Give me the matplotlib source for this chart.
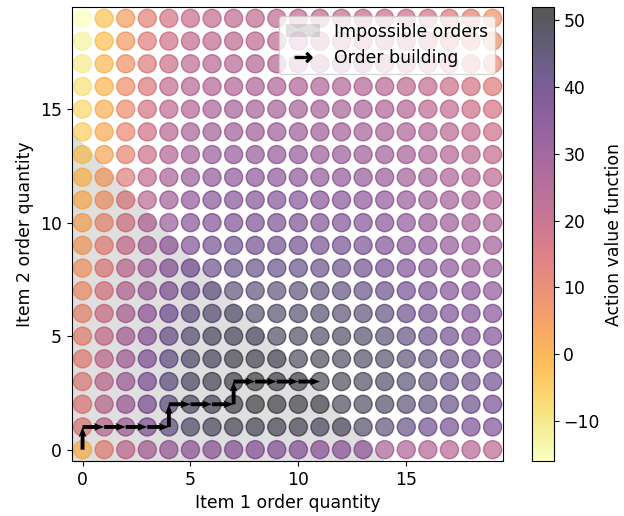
import numpy as np
import matplotlib
matplotlib.use("Agg")
import matplotlib.pyplot as plt
from matplotlib.lines import Line2D
from matplotlib.patches import Patch

plt.rcParams["font.size"] = 12.4

# ---- data -------------------------------------------------------------
item1_qty = list(range(20))
item2_qty = list(range(20))

# action value function, rows = item 2 quantity 0..19, cols = item 1 quantity 0..19
q_row_00 = [0, 12, 21, 27, 31, 33, 34, 35, 35, 35, 35, 34, 34, 33, 27, 26, 25, 24, 24, 23]
q_row_01 = [14, 22, 29, 36, 42, 46, 48, 49, 49, 49, 49, 48, 48, 47, 44, 42, 40, 39, 38, 37]
q_row_02 = [14, 22, 30, 37, 43, 47, 49, 50, 52, 51, 50, 50, 49, 48, 47, 45, 43, 42, 41, 39]
q_row_03 = [13, 22, 29, 37, 43, 47, 49, 50, 51, 51, 50, 50, 49, 48, 47, 45, 44, 42, 41, 40]
q_row_04 = [12, 21, 28, 36, 42, 46, 48, 49, 49, 49, 49, 49, 48, 47, 46, 44, 43, 41, 40, 38]
q_row_05 = [11, 20, 27, 34, 41, 45, 47, 48, 48, 48, 48, 47, 47, 46, 45, 43, 41, 40, 38, 37]
q_row_06 = [10, 18, 26, 33, 39, 43, 45, 46, 46, 46, 46, 46, 45, 44, 43, 41, 40, 38, 37, 35]
q_row_07 = [8, 16, 24, 31, 37, 41, 43, 44, 44, 44, 44, 44, 43, 42, 41, 39, 38, 36, 35, 33]
q_row_08 = [6, 14, 22, 29, 35, 39, 41, 42, 42, 42, 42, 41, 41, 40, 39, 37, 36, 34, 32, 31]
q_row_09 = [5, 12, 20, 27, 33, 37, 39, 40, 40, 40, 40, 39, 39, 38, 37, 35, 34, 32, 30, 29]
q_row_10 = [3, 10, 17, 25, 31, 35, 37, 38, 38, 38, 38, 37, 37, 36, 35, 33, 32, 30, 28, 27]
q_row_11 = [1, 7, 15, 23, 29, 33, 35, 36, 36, 36, 36, 35, 35, 34, 33, 31, 30, 28, 27, 25]
q_row_12 = [-1, 5, 13, 21, 27, 31, 33, 34, 34, 34, 34, 33, 33, 32, 31, 29, 28, 26, 25, 23]
q_row_13 = [-3, 3, 11, 19, 25, 29, 31, 32, 32, 32, 32, 31, 31, 30, 29, 28, 26, 25, 23, 21]
q_row_14 = [-5, 2, 10, 18, 24, 27, 29, 30, 30, 30, 30, 30, 29, 28, 27, 26, 25, 23, 21, 19]
q_row_15 = [-7, 1, 9, 17, 22, 25, 27, 28, 28, 28, 28, 28, 27, 27, 26, 25, 23, 21, 19, 17]
q_row_16 = [-9, 0, 8, 15, 21, 24, 25, 26, 26, 26, 26, 26, 25, 25, 24, 23, 21, 19, 17, 14]
q_row_17 = [-11, -1, 7, 14, 19, 22, 24, 24, 25, 25, 25, 24, 24, 23, 22, 21, 19, 17, 14, 11]
q_row_18 = [-13, -2, 6, 13, 18, 21, 22, 23, 23, 23, 23, 23, 22, 22, 21, 20, 18, 16, 13, 9]
q_row_19 = [-16, -3, 5, 12, 17, 20, 21, 22, 22, 22, 22, 22, 21, 21, 20, 19, 17, 15, 12, 7]

q_values = [q_row_00, q_row_01, q_row_02, q_row_03, q_row_04, q_row_05, q_row_06,
            q_row_07, q_row_08, q_row_09, q_row_10, q_row_11, q_row_12, q_row_13,
            q_row_14, q_row_15, q_row_16, q_row_17, q_row_18, q_row_19]

# minimum total order: orders with item1 + item2 below this are impossible
min_total_order = 14

# order building path
path_item1 = [0, 0, 1, 2, 3, 4, 4, 5, 6, 7, 7, 8, 9, 10, 11]
path_item2 = [0, 1, 1, 1, 1, 1, 2, 2, 2, 2, 3, 3, 3, 3, 3]

# ---- figure -----------------------------------------------------------
fig = plt.figure(figsize=(6.24, 5.16), dpi=100)
ax = fig.add_axes([0.115, 0.1066, 0.6917, 0.8798])
cax = fig.add_axes([0.8518, 0.1066, 0.0353, 0.8798])

# impossible orders region
lo, hi = -0.5, 19.5
edge = min_total_order - 0.5
bx = np.array([lo, edge - lo])
ax.fill_between(bx, lo, edge - bx, color="grey", alpha=0.25, linewidth=0, zorder=0)

X, Y = np.meshgrid(item1_qty, item2_qty)
sc = ax.scatter(X.ravel(), Y.ravel(), c=np.array(q_values, dtype=float).ravel(),
                cmap="inferno_r", alpha=0.5, s=170, zorder=1)

px = np.array(path_item1, dtype=float)
py = np.array(path_item2, dtype=float)
ax.quiver(px[:-1], py[:-1], np.diff(px), np.diff(py), angles="xy", scale_units="xy",
          scale=1, color="k", width=0.009, headwidth=2.0, headlength=2.6,
          headaxislength=2.3, zorder=3)

ax.set_xlim(lo, hi)
ax.set_ylim(lo, hi)
ax.set_xticks([0, 5, 10, 15])
ax.set_yticks([0, 5, 10, 15])
ax.set_xlabel("Item 1 order quantity")
ax.set_ylabel("Item 2 order quantity")

handles = [Patch(facecolor="grey", alpha=0.25, edgecolor="none"),
           Line2D([], [], marker=r"$\rightarrow$", color="k", linestyle="None", markersize=12)]
ax.legend(handles, ["Impossible orders", "Order building"], loc="upper right")

cb = fig.colorbar(sc, cax=cax)
cb.solids.set_alpha(0.66)
cb.set_label("Action value function")

fig.savefig("out.png", dpi=100)
